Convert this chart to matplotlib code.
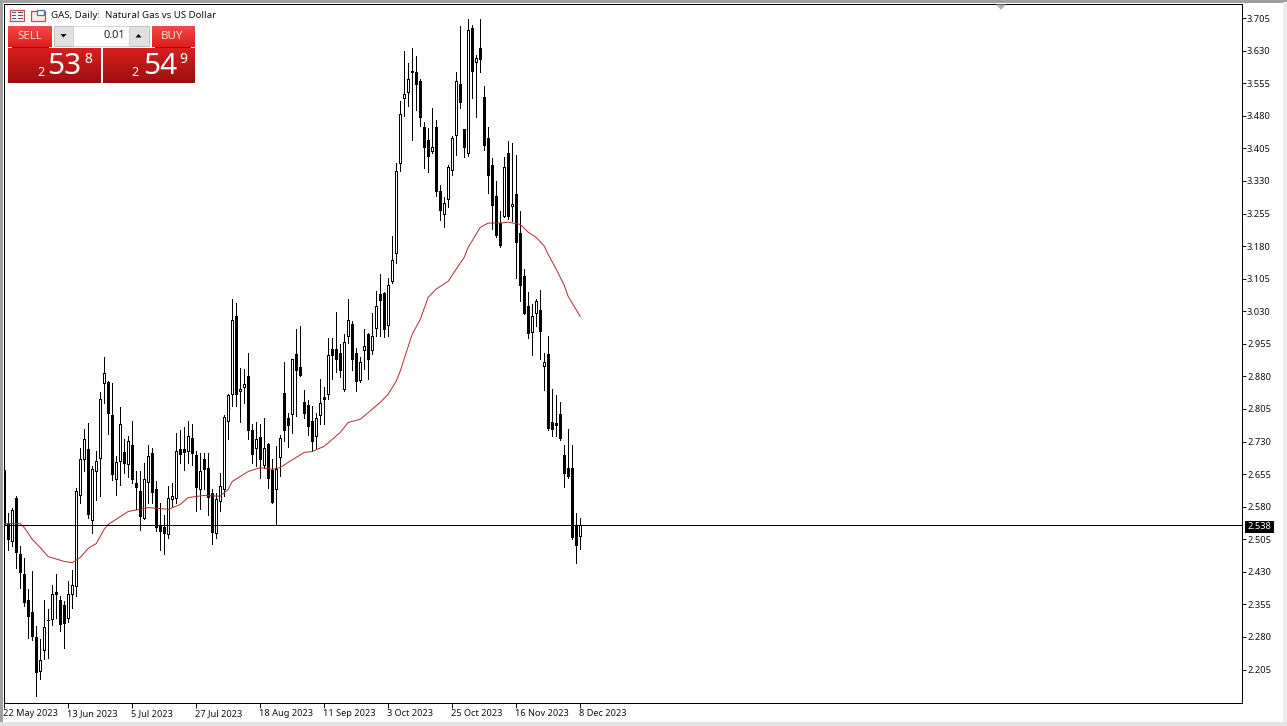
import numpy as np
import matplotlib
matplotlib.use('Agg')
import matplotlib.pyplot as plt
from matplotlib.patches import Rectangle, Polygon
from matplotlib.transforms import ScaledTranslation

plt.rcParams['font.family'] = ['Noto Sans', 'DejaVu Sans']

W, H = 1287, 726

# daily candles, top = high of body, bot = low of body
highs = [2.669,2.566,2.577,2.604,2.490,2.462,2.391,2.431,2.305,2.276,2.366,2.344,2.400,2.426,2.374,2.362,2.408,2.435,2.622,2.715,
         2.758,2.773,2.673,2.708,2.844,2.925,2.869,2.864,2.696,2.809,2.735,2.742,2.778,2.662,2.662,2.681,2.721,2.716,2.639,2.589,
         2.562,2.627,2.635,2.750,2.756,2.764,2.777,2.770,2.708,2.704,2.704,2.704,2.620,2.612,2.658,2.790,2.839,3.059,3.048,2.900,
         2.898,2.935,2.770,2.775,2.770,2.785,2.727,2.689,2.720,2.746,2.912,2.796,2.919,2.990,2.996,2.848,2.826,2.812,2.795,2.873,
         2.856,2.969,2.969,3.029,2.954,2.977,3.058,3.008,2.946,2.925,2.988,2.979,3.027,3.077,3.115,3.075,3.107,3.203,3.371,3.514,
         3.630,3.601,3.635,3.618,3.565,3.465,3.453,3.499,3.470,3.321,3.292,3.366,3.434,3.580,3.686,3.449,3.703,3.689,3.621,3.703,
         3.549,3.455,3.382,3.330,3.260,3.386,3.421,3.418,3.389,3.260,3.127,3.075,3.046,3.058,3.078,2.935,2.973,2.852,2.836,2.822,
         2.723,2.758,2.723,2.566,2.553]
tops = [2.665,2.543,2.573,2.599,2.470,2.425,2.366,2.338,2.281,2.228,2.303,2.320,2.379,2.384,2.364,2.353,2.379,2.399,2.617,2.689,
        2.736,2.712,2.667,2.686,2.827,2.888,2.867,2.792,2.683,2.771,2.706,2.731,2.723,2.635,2.617,2.643,2.697,2.703,2.620,2.535,
        2.533,2.601,2.604,2.708,2.712,2.713,2.743,2.739,2.699,2.662,2.689,2.670,2.612,2.598,2.627,2.786,2.836,3.010,3.018,2.852,
        2.863,2.882,2.756,2.735,2.741,2.716,2.725,2.664,2.666,2.739,2.842,2.785,2.919,2.932,2.902,2.822,2.813,2.778,2.785,2.819,
        2.832,2.929,2.942,2.942,2.935,2.960,3.010,3.000,2.935,2.912,2.950,2.978,2.973,3.042,3.069,3.073,3.090,3.147,3.352,3.485,
        3.531,3.564,3.583,3.580,3.561,3.455,3.424,3.409,3.455,3.306,3.280,3.361,3.428,3.559,3.553,3.449,3.678,3.682,3.612,3.635,
        3.524,3.428,3.366,3.296,3.234,3.363,3.394,3.278,3.301,3.210,3.110,3.041,3.018,3.054,3.032,2.914,2.932,2.776,2.773,2.794,
        2.700,2.670,2.668,2.535,2.538]
bots = [2.535,2.504,2.500,2.473,2.427,2.358,2.325,2.281,2.197,2.201,2.249,2.318,2.321,2.376,2.308,2.311,2.324,2.379,2.397,2.608,
        2.690,2.560,2.550,2.662,2.692,2.865,2.794,2.652,2.644,2.686,2.679,2.679,2.642,2.623,2.556,2.555,2.637,2.611,2.531,2.522,
        2.518,2.518,2.597,2.601,2.700,2.703,2.708,2.702,2.624,2.620,2.664,2.601,2.520,2.520,2.593,2.621,2.777,2.840,2.836,2.846,
        2.856,2.754,2.699,2.714,2.687,2.677,2.643,2.589,2.621,2.694,2.754,2.766,2.794,2.892,2.881,2.793,2.763,2.729,2.743,2.790,
        2.826,2.839,2.927,2.918,2.892,2.852,2.973,2.918,2.866,2.872,2.941,2.918,2.941,2.992,3.054,2.987,2.998,3.100,3.165,3.372,
        3.522,3.535,3.581,3.551,3.476,3.405,3.385,3.399,3.305,3.261,3.255,3.289,3.356,3.436,3.509,3.405,3.395,3.580,3.605,3.609,
        3.411,3.342,3.273,3.203,3.180,3.250,3.246,3.273,3.186,3.088,3.023,2.977,2.982,3.025,2.982,2.904,2.760,2.756,2.766,2.735,
        2.656,2.648,2.508,2.489,2.512]
lows = [2.531,2.481,2.489,2.439,2.393,2.351,2.278,2.274,2.145,2.183,2.229,2.232,2.308,2.324,2.293,2.255,2.314,2.347,2.374,2.589,
        2.662,2.554,2.520,2.596,2.604,2.819,2.748,2.642,2.608,2.631,2.658,2.649,2.635,2.575,2.526,2.551,2.589,2.589,2.524,2.480,
        2.472,2.508,2.581,2.589,2.680,2.664,2.681,2.677,2.570,2.574,2.620,2.562,2.493,2.508,2.570,2.604,2.735,2.812,2.812,2.775,
        2.819,2.735,2.681,2.674,2.647,2.670,2.624,2.589,2.539,2.650,2.731,2.717,2.750,2.789,2.881,2.785,2.746,2.708,2.716,2.770,
        2.770,2.827,2.873,2.889,2.879,2.846,2.958,2.895,2.846,2.866,2.896,2.875,2.931,2.973,2.973,2.971,2.973,3.094,3.140,3.353,
        3.480,3.503,3.425,3.494,3.457,3.359,3.351,3.395,3.296,3.240,3.223,3.270,3.343,3.390,3.499,3.385,3.388,3.520,3.478,3.581,
        3.402,3.303,3.219,3.200,3.177,3.248,3.242,3.238,3.107,3.054,3.023,2.969,2.929,2.996,2.919,2.849,2.756,2.743,2.743,2.733,
        2.625,2.647,2.505,2.451,2.482]
# 1 = up candle (hollow), 0 = down candle (filled)
up = [0,0,1,0,0,0,0,0,0,1,1,1,1,0,0,0,1,1,1,1,
      1,0,1,1,1,1,0,0,1,1,0,1,0,0,0,1,1,0,0,0,
      0,1,1,1,0,0,1,0,0,1,0,0,0,1,1,1,1,1,0,1,
      1,0,0,1,0,1,0,0,1,1,0,0,1,0,0,0,0,0,1,1,
      0,1,0,0,0,1,1,0,0,1,1,0,1,1,0,0,1,1,1,1,
      1,1,1,0,0,0,0,1,0,0,1,1,1,1,0,0,1,0,1,0,
      0,0,0,0,0,1,0,1,0,0,0,0,1,1,0,1,0,0,0,0,
      0,0,0,0,1]

# moving average read at some of the bars
ma_bars = [0,4,5,6,7,9,11,15,17,19,21,23,25,26,29,31,34,36,41,44,46,50,54,56,57,61,64,67,69,71,75,77,80,84,86,89,94,96,98,99,
           101,102,104,106,108,111,113,115,116,119,121,124,126,129,131,133,135,136,138,140,141,144]
ma_vals = [2.541,2.541,2.532,2.519,2.505,2.486,2.465,2.454,2.451,2.463,2.484,2.495,2.528,2.539,2.557,2.569,2.574,2.578,2.574,2.585,
           2.601,2.606,2.604,2.620,2.638,2.661,2.670,2.666,2.670,2.682,2.705,2.707,2.719,2.751,2.774,2.781,2.820,2.839,2.869,2.892,
           2.949,2.977,3.011,3.062,3.081,3.099,3.127,3.154,3.177,3.223,3.233,3.233,3.235,3.230,3.212,3.200,3.180,3.161,3.127,3.090,3.064,3.018]

last_price = 2.538
y_labels = ['3.705','3.630','3.555','3.480','3.405','3.330','3.255','3.180','3.105','3.030','2.955','2.880','2.805','2.730',
            '2.655','2.580','2.505','2.430','2.355','2.280','2.205']
x_labels = ['22 May 2023','13 Jun 2023','5 Jul 2023','27 Jul 2023','18 Aug 2023','11 Sep 2023','3 Oct 2023','25 Oct 2023',
            '16 Nov 2023','8 Dec 2023']

fig = plt.figure(figsize=(W/100, H/100), dpi=100, facecolor='white')

# chart panel, frame from x=4..1242, y=4..703 in pixels
ax = fig.add_axes([4/W, 1-703/H, (1242-4)/W, (703-4)/H])
ax.set_xlim(-0.05, 309.45)
ax.set_ylim(2.128, 3.7374)

x = np.arange(len(highs))
up = np.array(up, dtype=bool)
tops, bots = np.array(tops), np.array(bots)
px = 0.72  # one pixel in points

ax.vlines(x, lows, highs, color='black', lw=px, antialiased=False, zorder=2)
ax.bar(x[~up], (tops-bots)[~up], bottom=bots[~up], width=0.8, color='black', edgecolor='black',
       linewidth=0, antialiased=False, zorder=3)
ax.bar(x[up], (tops-bots)[up], bottom=bots[up], width=0.55, color='white', edgecolor='black',
       linewidth=px, antialiased=False, zorder=3)
ax.plot(ma_bars, ma_vals, color='#a82c2c', lw=0.7, zorder=4)
ax.axhline(last_price, color='black', lw=px, antialiased=False, zorder=5)

ax.yaxis.tick_right()
ax.set_yticks([float(s) for s in y_labels])
ax.set_yticklabels(y_labels)
ax.set_xticks(np.arange(len(x_labels))*16)
ax.set_xticklabels(x_labels, ha='left')
ax.tick_params(axis='y', length=3.2, width=px, pad=0.4, labelsize=6.7, colors='#111111')
ax.tick_params(axis='x', length=3.4, width=px, pad=0.8, labelsize=6.6, colors='#111111')
shift = ScaledTranslation(-1.6/100, 0, fig.dpi_scale_trans)
for lab in ax.get_xticklabels():
    lab.set_transform(lab.get_transform() + shift)
for s in ax.spines.values():
    s.set_linewidth(px)

# overlay in pixel coordinates for the terminal window bits
ov = fig.add_axes([0, 0, 1, 1], facecolor='none')
ov.set_xlim(0, W)
ov.set_ylim(H, 0)
ov.axis('off')

def rect(x0, y0, x1, y1, fc, ec='none', lw=0, z=1):
    ov.add_patch(Rectangle((x0, y0), x1-x0, y1-y0, facecolor=fc, edgecolor=ec, linewidth=lw, zorder=z))

def grad(x0, y0, x1, y1, c0, c1, z=2):
    c0, c1 = np.array(matplotlib.colors.to_rgb(c0)), np.array(matplotlib.colors.to_rgb(c1))
    g = np.linspace(0, 1, 32)[:, None, None]
    ov.imshow(c0*(1-g)+c1*g, extent=(x0, x1, y1, y0), aspect='auto', zorder=z, interpolation='bilinear')

# window edges
rect(0, 0, W, 2.5, '#a0a0a0')
rect(0, 0, 2.5, H, '#a0a0a0')
rect(1283, 2, W, H, '#ececec')
rect(0, 722, W, H, '#e4e4e4')
ov.add_patch(Polygon([(996, 4.5), (1006, 4.5), (1001, 10)], facecolor='#b4b4b4', edgecolor='none'))

# price tag on the axis
rect(1245, 521, 1274, 532.5, 'black', z=3)
ov.text(1259.5, 526.5, '2.538', color='white', fontsize=6.7, ha='center', va='center', zorder=4)

# header
ov.text(51, 15.5, 'GAS, Daily:  Natural Gas vs US Dollar', fontsize=6.95, color='#111111', va='center', ha='left')
# two little toolbar icons
rect(9.5, 9.5, 24, 21, '#fbeeea', ec='#c8503c', lw=0.9)
for yy in (12, 14.8, 17.6):
    rect(11.5, yy, 16, yy+1.4, '#2c5f9e'); rect(17.5, yy, 22.5, yy+1.4, '#2c5f9e')
rect(30.5, 10.5, 44.5, 21, '#fbeeea', ec='#c8503c', lw=0.9)
rect(37, 9.5, 44, 15, 'white', ec='#3f78b5', lw=0.9, z=2)

# trade panel
grad(8, 26, 52, 47, '#f04a4a', '#e01e1e')
grad(152, 26, 195, 47, '#f04a4a', '#e01e1e')
grad(8, 48, 101, 83, '#d81f1f', '#9c0f0f')
grad(103, 48, 195, 83, '#d81f1f', '#9c0f0f')
rect(12, 47.3, 49, 48, '#8c1010', z=3)
rect(155, 47.3, 191, 48, '#8c1010', z=3)
rect(54, 26, 73, 46, '#e0e0e0', ec='#b8b8b8', lw=0.6)
rect(129, 26, 149, 46, '#e0e0e0', ec='#b8b8b8', lw=0.6)
rect(73, 26, 129, 46, 'white', ec='#cfcfcf', lw=0.6)
ov.add_patch(Polygon([(60.5, 34), (66.5, 34), (63.5, 37.5)], facecolor='black', zorder=3))
ov.add_patch(Polygon([(135.5, 37.5), (141.5, 37.5), (138.5, 34)], facecolor='black', zorder=3))
ov.text(125, 36, '0.01', fontsize=8.0, color='#222222', ha='right', va='center', zorder=3)
ov.text(29.5, 36.5, 'SELL', fontsize=8.3, color='#f6d8d8', ha='center', va='center', zorder=3)
ov.text(172, 36.5, 'BUY', fontsize=8.3, color='#f6d8d8', ha='center', va='center', zorder=3)
for xs, big, xb, small, xl in [(41, '53', 64.5, '8', 88), (135, '54', 160, '9', 183)]:
    ov.text(xs, 72.5, '2', fontsize=9, color='white', ha='center', va='center', zorder=3, fontweight='bold')
    ov.text(xb, 66.5, big, fontsize=21.5, color='white', ha='center', va='center', zorder=3)
    ov.text(xl, 59.5, small, fontsize=10, color='white', ha='center', va='center', zorder=3, fontweight='bold')
ov.set_xlim(0, W)
ov.set_ylim(H, 0)

fig.savefig('out.png', dpi=100)
